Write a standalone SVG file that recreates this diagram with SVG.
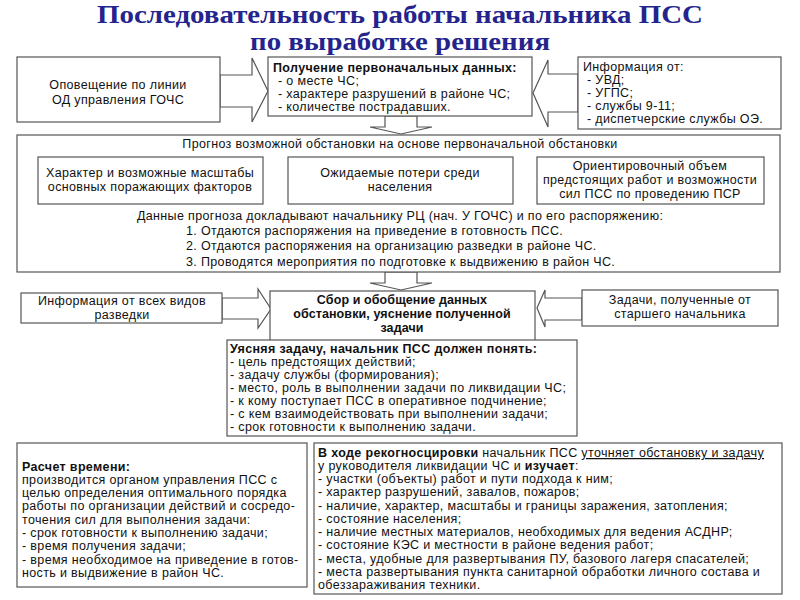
<svg xmlns="http://www.w3.org/2000/svg" width="800" height="600" viewBox="0 0 800 600">
<style>
.bg{fill:#fff}
.box{fill:#fff;stroke:#555;stroke-width:1.2}
.arr{fill:#fff;stroke:#555;stroke-width:1.2;stroke-linejoin:miter}
.t{font-family:"Liberation Sans",Arial,sans-serif;font-size:12.5px;letter-spacing:0.35px;fill:#111}
.c{text-anchor:middle}
.b{font-weight:bold}
.title{font-family:"Liberation Serif","Times New Roman",serif;font-weight:bold;font-size:24.5px;fill:#24248c;text-anchor:middle}
</style>
<rect class="bg" x="0" y="0" width="800" height="600"/>
<g id="title">
<text class="title" x="400" y="23" textLength="606" lengthAdjust="spacingAndGlyphs">Последовательность работы начальника ПСС</text>
<text class="title" x="400" y="50" textLength="300" lengthAdjust="spacingAndGlyphs">по выработке решения</text>
</g>
<g id="connectors">
<polygon class="arr" points="220,75 252,75 252,58 268,91 252,122 252,107 220,107"/>
<polygon class="arr" points="578,74 548,74 548,60 533,93 548,127 548,112 578,112"/>
<polygon class="arr" points="385,116 385,127 370,127 401,134 432,127 417,127 417,116"/>
<polygon class="arr" points="385,272 385,283 370,283 401,290 432,283 417,283 417,272"/>
<polygon class="arr" points="222,298 258,298 258,289 271,309 258,328 258,319 222,319"/>
<polygon class="arr" points="582,298 545,298 545,290 537,308 545,327 545,320 582,320"/>
</g>
<g id="n-opoveshchenie">
<rect class="box" x="17" y="57" width="203" height="65"/>
<text class="t c" x="118" y="89">Оповещение по линии</text>
<text class="t c" x="118" y="104">ОД управления ГОЧС</text>
</g>
<g id="n-poluchenie">
<rect class="box" x="268" y="57" width="264" height="59"/>
<text class="t b" x="273" y="72">Получение первоначальных данных:</text>
<text class="t" x="278" y="85">- о месте ЧС;</text>
<text class="t" x="278" y="98">- характере разрушений в районе ЧС;</text>
<text class="t" x="278" y="111">- количестве пострадавших.</text>
</g>
<g id="n-informaciya">
<rect class="box" x="578" y="57" width="203" height="72"/>
<text class="t" x="583" y="71">Информация от:</text>
<text class="t" x="587" y="84">- УВД;</text>
<text class="t" x="587" y="97">- УГПС;</text>
<text class="t" x="587" y="110">- службы 9-11;</text>
<text class="t" x="587" y="123">- диспетчерские службы ОЭ.</text>
</g>
<g id="n-prognoz">
<rect class="box" x="17" y="135" width="763" height="137"/>
<text class="t c" x="400" y="148">Прогноз возможной обстановки на основе первоначальной обстановки</text>
<rect class="box" x="38" y="157" width="225" height="47"/>
<text class="t c" x="150" y="177">Характер и возможные масштабы</text>
<text class="t c" x="150" y="191">основных поражающих факторов</text>
<rect class="box" x="288" y="157" width="225" height="47"/>
<text class="t c" x="400" y="177">Ожидаемые потери среди</text>
<text class="t c" x="400" y="191">населения</text>
<rect class="box" x="537" y="157" width="227" height="47"/>
<text class="t c" x="650" y="170">Ориентировочный объем</text>
<text class="t c" x="650" y="184">предстоящих работ и возможности</text>
<text class="t c" x="650" y="198">сил ПСС по проведению ПСР</text>
<text class="t" x="137" y="220">Данные прогноза докладывают начальнику РЦ (нач. У ГОЧС) и по его распоряжению:</text>
<text class="t" x="186" y="235">1. Отдаются распоряжения на приведение в готовность ПСС.</text>
<text class="t" x="186" y="250">2. Отдаются распоряжения на организацию разведки в районе ЧС.</text>
<text class="t" x="186" y="266">3. Проводятся мероприятия по подготовке к выдвижению в район ЧС.</text>
</g>
<g id="n-razvedka">
<rect class="box" x="21" y="293" width="201" height="30"/>
<text class="t c" x="122" y="305">Информация от всех видов</text>
<text class="t c" x="122" y="319">разведки</text>
</g>
<g id="n-sbor">
<rect class="box" x="270" y="291" width="265" height="50"/>
<text class="t c b" x="402" y="304" style="letter-spacing:0.1px">Сбор и обобщение данных</text>
<text class="t c b" x="402" y="318" style="letter-spacing:0.1px">обстановки, уяснение полученной</text>
<text class="t c b" x="402" y="332" style="letter-spacing:0.1px">задачи</text>
</g>
<g id="n-zadachi">
<rect class="box" x="582" y="290" width="196" height="36"/>
<text class="t c" x="680" y="304">Задачи, полученные от</text>
<text class="t c" x="680" y="318">старшего начальника</text>
</g>
<g id="n-uyasnyaya">
<rect class="box" x="227" y="340" width="350" height="96"/>
<text class="t b" x="230" y="353">Уясняя задачу, начальник ПСС должен понять:</text>
<text class="t" x="230" y="366">- цель предстоящих действий;</text>
<text class="t" x="230" y="379">- задачу службы (формирования);</text>
<text class="t" x="230" y="392">- место, роль в выполнении задачи по ликвидации ЧС;</text>
<text class="t" x="230" y="405">- к кому поступает ПСС в оперативное подчинение;</text>
<text class="t" x="230" y="418">- с кем взаимодействовать при выполнении задачи;</text>
<text class="t" x="230" y="431">- срок готовности к выполнению задачи.</text>
</g>
<g id="n-raschet">
<rect class="box" x="17" y="443" width="290" height="144"/>
<text class="t b" x="22" y="471">Расчет времени:</text>
<text class="t" x="22" y="484">производится органом управления ПСС с</text>
<text class="t" x="22" y="497">целью определения оптимального порядка</text>
<text class="t" x="22" y="510">работы по организации действий и сосредо-</text>
<text class="t" x="22" y="524">точения сил для выполнения задачи:</text>
<text class="t" x="22" y="537">- срок готовности к выполнению задачи;</text>
<text class="t" x="22" y="550">- время получения задачи;</text>
<text class="t" x="22" y="564">- время необходимое на приведение в готов-</text>
<text class="t" x="22" y="577">ность и выдвижение в район ЧС.</text>
</g>
<g id="n-rekognoscirovka">
<rect class="box" x="314" y="443" width="468" height="151"/>
<text class="t" x="318" y="457"><tspan class="b">В ходе рекогносцировки</tspan> начальник ПСС <tspan text-decoration="underline">уточняет обстановку и задачу</tspan></text>
<text class="t" x="318" y="470">у руководителя ликвидации ЧС и <tspan class="b">изучает</tspan>:</text>
<text class="t" x="318" y="483">- участки (объекты) работ и пути подхода к ним;</text>
<text class="t" x="318" y="496">- характер разрушений, завалов, пожаров;</text>
<text class="t" x="318" y="510">- наличие, характер, масштабы и границы заражения, затопления;</text>
<text class="t" x="318" y="523">- состояние населения;</text>
<text class="t" x="318" y="536">- наличие местных материалов, необходимых для ведения АСДНР;</text>
<text class="t" x="318" y="549">- состояние КЭС и местности в районе ведения работ;</text>
<text class="t" x="318" y="563">- места, удобные для развертывания ПУ, базового лагеря спасателей;</text>
<text class="t" x="318" y="576">- места развертывания пункта санитарной обработки личного состава и</text>
<text class="t" x="318" y="589">обеззараживания техники.</text>
</g>
</svg>
